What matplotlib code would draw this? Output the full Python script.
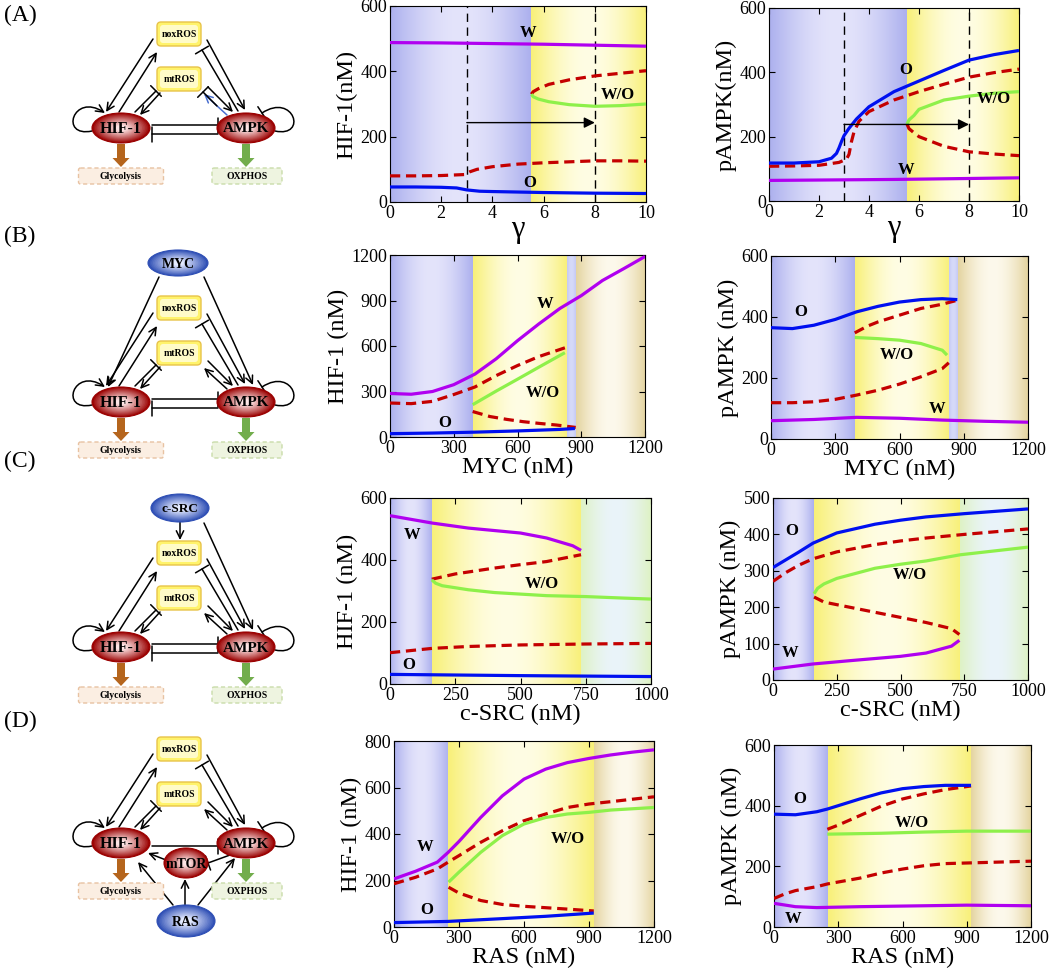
import matplotlib
matplotlib.use('Agg')
import matplotlib.pyplot as plt
import numpy as np
from matplotlib.colors import to_rgb
from matplotlib.path import Path
from matplotlib.patches import Ellipse, FancyBboxPatch, FancyArrow, FancyArrowPatch, ArrowStyle

plt.rcParams['font.family'] = ['Liberation Serif', 'DejaVu Serif']

# ---------------- values ----------------
# (A) HIF-1 vs gamma
A_hif_W = [(0, 488), (2, 487), (4, 485), (6, 483), (8, 480), (10, 477)]
A_hif_O = [(0, 46), (1, 46), (2, 45), (2.6, 43), (3, 37), (3.5, 33), (4, 32), (6, 29), (8, 27), (10, 26)]
A_hif_U1 = [(0, 80), (1, 80), (2, 81), (2.9, 84), (3.1, 92), (3.4, 100), (4, 108), (5, 116), (6, 120),
            (7, 123), (8, 126), (9, 126), (10, 125)]
A_hif_U2 = [(5.52, 330), (5.6, 338), (5.8, 347), (6.2, 360), (7, 374), (8, 386), (9, 394), (10, 402)]
A_hif_WO = [(5.52, 330), (5.6, 322), (5.8, 315), (6.2, 307), (7, 298), (8, 293), (9, 295), (10, 300)]
# (A) pAMPK vs gamma
A_amp_W = [(0, 64), (5, 67), (10, 72)]
A_amp_O = [(0, 118), (1, 118), (2, 122), (2.5, 133), (2.7, 148), (2.8, 165), (2.9, 185), (3.0, 203),
           (3.2, 226), (3.5, 255), (4, 293), (5, 340), (6, 373), (7, 406), (8, 438), (9, 455), (10, 468)]
A_amp_U1 = [(0, 108), (1, 109), (2, 111), (2.8, 120), (3.1, 130), (3.2, 145), (3.3, 185), (3.4, 215),
            (3.6, 248), (4, 278), (5, 314), (6, 340), (7, 363), (8, 385), (9, 399), (10, 410)]
A_amp_U2 = [(5.52, 239), (5.6, 225), (5.8, 212), (6, 200), (7, 170), (8, 153), (9, 146), (10, 141)]
A_amp_WO = [(5.52, 239), (5.6, 252), (5.8, 266), (6, 285), (7, 314), (8, 326), (9, 335), (10, 340)]

# (B) HIF-1 vs MYC
B_hif_W = [(0, 287), (100, 282), (200, 300), (300, 345), (400, 415), (500, 516), (600, 635), (700, 745),
           (800, 848), (900, 932), (1000, 1032), (1100, 1110), (1200, 1190)]
B_hif_O = [(0, 22), (200, 26), (400, 32), (600, 40), (800, 50), (870, 56)]
B_hif_U1 = [(0, 224), (100, 220), (200, 235), (300, 280), (400, 330), (500, 405), (600, 471), (700, 530), (823, 588)]
B_hif_WO = [(389, 213), (500, 303), (600, 381), (700, 460), (823, 556)]
B_hif_U2 = [(389, 168), (470, 135), (550, 116), (627, 101), (700, 90), (783, 79), (874, 63)]
# (B) pAMPK vs MYC
B_amp_O = [(0, 365), (100, 362), (200, 373), (300, 392), (400, 417), (500, 435), (600, 449), (700, 457),
           (800, 460), (870, 457)]
B_amp_U1 = [(391, 348), (450, 370), (500, 384), (600, 406), (700, 428), (800, 442), (870, 455)]
B_amp_WO = [(391, 333), (500, 329), (600, 324), (700, 313), (800, 291), (822, 275)]
B_amp_U2 = [(0, 119), (100, 119), (200, 122), (300, 130), (400, 144), (500, 160), (600, 180), (700, 204),
            (800, 231), (830, 250)]
B_amp_W = [(0, 60), (200, 64), (400, 71), (600, 68), (800, 62), (1000, 58), (1200, 55)]

# (C) HIF-1 vs c-SRC
C_hif_W = [(0, 543), (163, 519), (300, 503), (500, 487), (600, 471), (700, 446), (732, 431)]
C_hif_U1 = [(160, 338), (250, 355), (400, 374), (500, 385), (600, 395), (732, 417)]
C_hif_WO = [(160, 336), (175, 325), (200, 317), (300, 304), (400, 295), (500, 290), (600, 285), (750, 282),
            (900, 277), (1000, 274)]
C_hif_U2 = [(0, 101), (163, 115), (300, 121), (500, 126), (750, 129), (1000, 131)]
C_hif_O = [(0, 31), (500, 27), (1000, 24)]
# (C) pAMPK vs c-SRC
C_amp_O = [(0, 309), (50, 330), (100, 351), (157, 376), (250, 404), (400, 428), (500, 439), (600, 448),
           (750, 457), (1000, 470)]
C_amp_U1 = [(0, 271), (50, 295), (100, 315), (157, 333), (250, 352), (400, 372), (500, 382), (600, 390),
            (750, 400), (1000, 415)]
C_amp_WO = [(161, 237), (175, 252), (200, 264), (250, 279), (400, 307), (500, 318), (600, 327), (734, 344),
            (1000, 365)]
C_amp_U2 = [(161, 228), (200, 214), (300, 200), (400, 186), (500, 172), (600, 158), (700, 141), (731, 125)]
C_amp_W = [(0, 30), (157, 44), (300, 53), (500, 65), (600, 74), (700, 93), (731, 109)]

# (D) HIF-1 vs RAS
D_hif_W = [(0, 207), (100, 240), (200, 279), (250, 321), (300, 368), (400, 471), (500, 564), (600, 636),
           (700, 679), (800, 707), (900, 725), (1000, 740), (1100, 752), (1200, 762)]
D_hif_U1 = [(0, 186), (100, 214), (200, 250), (250, 279), (300, 307), (400, 364), (500, 414), (600, 457),
            (700, 486), (800, 514), (900, 529), (1000, 539), (1200, 560)]
D_hif_WO = [(252, 193), (300, 236), (400, 321), (500, 393), (600, 443), (700, 471), (800, 486), (900, 493),
            (1000, 503), (1200, 514)]
D_hif_U2 = [(252, 171), (300, 146), (400, 114), (500, 97), (600, 89), (700, 83), (800, 77), (922, 69)]
D_hif_O = [(0, 19), (250, 24), (500, 36), (700, 46), (922, 60)]
# (D) pAMPK vs RAS
D_amp_O = [(0, 372), (100, 370), (200, 380), (250, 389), (300, 400), (400, 422), (500, 442), (600, 456),
           (700, 463), (800, 467), (920, 467)]
D_amp_U1 = [(249, 322), (300, 336), (400, 367), (500, 398), (600, 422), (700, 439), (800, 453), (920, 465)]
D_amp_WO = [(249, 306), (500, 309), (700, 313), (900, 316), (1200, 316)]
D_amp_U2 = [(0, 94), (50, 109), (100, 120), (200, 133), (250, 142), (400, 161), (500, 178), (600, 191),
            (700, 202), (800, 209), (900, 211), (1000, 213), (1200, 217)]
D_amp_W = [(0, 78), (100, 67), (200, 64), (400, 67), (600, 69), (900, 72), (1200, 70)]

# stability regions (boundaries on the x axis) and their kind
A_regions, A_kinds = [0, 5.5, 10], ['blue', 'yellow']
B_regions, B_kinds = [0, 390, 833, 875, 1200], ['blue', 'yellow', 'strip', 'tan']
C_regions, C_kinds = [0, 160, 733, 1000], ['blue', 'yellow', 'green']
D_regions, D_kinds = [0, 250, 921, 1200], ['blue', 'yellow', 'tan']

# state labels
A_hif_labels = [('W', 5.4, 516), ('W/O', 8.9, 328), ('O', 5.45, 58)]
A_amp_labels = [('O', 5.48, 408), ('W/O', 8.98, 317), ('W', 5.5, 96)]
B_hif_labels = [('W', 728, 879), ('W/O', 721, 292), ('O', 258, 94)]
B_amp_labels = [('O', 137, 417), ('W/O', 588, 275), ('W', 775, 97)]
C_hif_labels = [('W', 83, 482), ('W/O', 581, 323), ('O', 70, 61)]
C_amp_labels = [('O', 72, 409), ('W/O', 537, 288), ('W', 66, 74)]
D_hif_labels = [('W', 142, 343), ('W/O', 803, 379), ('O', 149, 74)]
D_amp_labels = [('O', 121, 422), ('W/O', 643, 342), ('W', 90, 28)]

A_gamma_marks = [3, 8]
A_arrow_y = {'hif': 243, 'amp': 238}

# ---------------- styles ----------------
REGION_COLORS = {
    'blue': ((172, 176, 238), (228, 228, 251)),
    'yellow': ((248, 240, 120), (255, 253, 228)),
    'strip': ((196, 200, 244), (214, 218, 248)),
    'tan': ((228, 212, 160), (253, 249, 236)),
    'green': ((222, 242, 196), (234, 244, 250)),
}
LINE = {
    'W': dict(color='#b000f0', lw=2.3, ls='-'),
    'O': dict(color='#0010f0', lw=2.3, ls='-'),
    'WO': dict(color='#8ef04a', lw=2.3, ls='-'),
    'U': dict(color='#c40000', lw=2.3, ls=(0, (3.2, 1.8))),
}

FW, FH = 1050, 974
fig = plt.figure(figsize=(FW / 100, FH / 100), dpi=100)


def px_rect(l, t, r, b):
    return [l / FW, 1 - b / FH, (r - l) / FW, (b - t) / FH]


def mix(c1, c2, t):
    a, b = np.array(to_rgb(c1)), np.array(to_rgb(c2))
    return tuple(a * (1 - t) + b * t)


# ---------------- network diagrams ----------------
dax = fig.add_axes([0, 0, 1, 1])
dax.set_xlim(0, FW)
dax.set_ylim(FH, 0)
dax.axis('off')


def blob(cx, cy, w, h, dark, light, label, fs):
    n = 16
    for i in range(n):
        t = i / (n - 1)
        s = 1 - 0.82 * t
        dax.add_patch(Ellipse((cx, cy), w * s, h * s, fc=mix(dark, light, t ** 0.9), ec='none', zorder=3))
    dax.add_patch(Ellipse((cx, cy), w, h, fill=False, ec=dark, lw=0.8, zorder=3))
    dax.text(cx, cy + 1, label, ha='center', va='center', fontsize=fs, fontweight='bold', zorder=5)


def ros_box(cx, cy, label):
    w, h = 44, 24
    dax.add_patch(FancyBboxPatch((cx - w / 2, cy - h / 2), w, h, boxstyle='round,pad=0,rounding_size=4',
                                 fc='#fff36b', ec='#e8c34a', lw=1, zorder=3))
    dax.add_patch(FancyBboxPatch((cx - w / 2 + 3, cy - h / 2 + 3), w - 6, h - 6,
                                 boxstyle='round,pad=0,rounding_size=3', fc='#fffbc8', ec='none', zorder=3))
    dax.text(cx, cy + 0.5, label, ha='center', va='center', fontsize=7, fontweight='bold', zorder=5)


def out_box(cx, cy, w, label, fc, ec):
    h = 16
    dax.add_patch(FancyBboxPatch((cx - w / 2, cy - h / 2), w, h, boxstyle='round,pad=0,rounding_size=2',
                                 fc=fc, ec=ec, lw=1, ls=(0, (3, 2)), zorder=3))
    dax.text(cx, cy + 0.5, label, ha='center', va='center', fontsize=7, fontweight='bold', zorder=5)


def _style(kind):
    if kind == '->':
        return ArrowStyle('->', head_length=0.45, head_width=0.22)
    return ArrowStyle('-[', widthB=0.45, lengthB=0)


def link(p0, p1, kind, color='k'):
    dax.add_patch(FancyArrowPatch(p0, p1, arrowstyle=_style(kind), mutation_scale=12, lw=1.1, color=color,
                                  shrinkA=0, shrinkB=0, zorder=2))


def loop(pts, kind):
    path = Path(pts, [Path.MOVETO, Path.CURVE4, Path.CURVE4, Path.CURVE4])
    dax.add_patch(FancyArrowPatch(path=path, arrowstyle=_style(kind), mutation_scale=12, lw=1.1,
                                  color='k', zorder=2))


RED_DARK, RED_LIGHT = '#9a0000', '#fde6e6'
BLUE_DARK, BLUE_LIGHT = '#2f4fb5', '#e6ecff'

CORE_EDGES = [
    ((32, -89), (-15, -16), '->'),
    ((-2, -16), (36, -76), '->'),
    ((39, -35), (19, -13), '->'),
    ((14, -16), (35, -37), '-['),
    ((86, -88), (124, -18), '->'),
    ((117, -17), (81, -78), '-['),
    ((87, -41), (112, -16), '->'),
]
HIF_LOOP = [(-29, 3), (-62, 10), (-48, -36), (-16, -15)]
AMPK_LOOP = [(154, 3), (187, 10), (173, -36), (141, -15)]


def core(hx, hy, blue_mt=False, mtor=False):
    P = lambda dx, dy: (hx + dx, hy + dy)
    for a, b, k in CORE_EDGES:
        link(P(*a), P(*b), k)
    if blue_mt:
        link(P(106, -13), P(83, -34), '->', color='#4a6fd0')
        link(P(96, -22), P(82, -36), '-[')
    else:
        link(P(106, -13), P(83, -34), '->')
    if mtor:
        link(P(31, 3), P(97, 3), '-[')
    else:
        link(P(31, -3), P(97, -3), '-[')
        link(P(97, 6), P(31, 6), '-[')
    loop([P(*q) for q in HIF_LOOP], '->')
    loop([P(*q) for q in AMPK_LOOP], '-[')
    ros_box(*P(58, -94), 'noxROS')
    ros_box(*P(58, -49), 'mtROS')
    blob(*P(0, 0), 58, 30, RED_DARK, RED_LIGHT, 'HIF-1', 11.5)
    blob(*P(125, 0), 58, 30, RED_DARK, RED_LIGHT, 'AMPK', 11)
    out_box(*P(0, 48), 85, 'Glycolysis', '#fbeee2', '#e8c2a2')
    out_box(*P(126, 48), 70, 'OXPHOS', '#eef4e0', '#c9dcaa')
    dax.add_patch(FancyArrow(hx, hy + 16, 0, 23, width=8, head_width=17, head_length=9,
                             length_includes_head=True, color='#b5651d', lw=0, zorder=2))
    dax.add_patch(FancyArrow(hx + 125, hy + 16, 0, 23, width=8, head_width=17, head_length=9,
                             length_includes_head=True, color='#72ad4c', lw=0, zorder=2))
    return P


# (A)
core(121, 128, blue_mt=True)
# (B)
P = core(121, 402)
link(P(38, -125), P(-13, -15), '->')
link(P(83, -125), P(132, -17), '->')
blob(*P(57, -139), 60, 26, BLUE_DARK, BLUE_LIGHT, 'MYC', 10)
# (C)
P = core(121, 647)
link(P(59, -126), P(59, -107), '->')
link(P(83, -124), P(132, -17), '->')
blob(*P(59, -139), 58, 28, BLUE_DARK, BLUE_LIGHT, 'c-SRC', 9.5)
# (D)
P = core(121, 843, mtor=True)
link(P(45, 17), P(27, 10), '->')
link(P(109, 12), P(87, 20), '-[')
link(P(52, 62), P(17, 19), '->')
link(P(64, 62), P(64, 36), '->')
link(P(77, 62), P(114, 15), '->')
blob(*P(65, 20), 44, 30, RED_DARK, RED_LIGHT, 'mTOR', 10)
blob(*P(65, 78), 58, 32, BLUE_DARK, BLUE_LIGHT, 'RAS', 10)

for lab, y in [('(A)', 15), ('(B)', 236), ('(C)', 461), ('(D)', 721)]:
    fig.text(20 / FW, 1 - y / FH, lab, ha='center', va='center', fontsize=17)


# ---------------- bifurcation panels ----------------
def shade(ax, x0, x1, kind, ylim):
    edge, mid = np.array(REGION_COLORS[kind][0]) / 255, np.array(REGION_COLORS[kind][1]) / 255
    t = np.linspace(0, 1, 256)
    f = np.sin(np.pi * t)
    rgb = edge[None, :] * (1 - f[:, None]) + mid[None, :] * f[:, None]
    ax.imshow(rgb[None, :, :], extent=[x0, x1, ylim[0], ylim[1]], aspect='auto', origin='lower',
              interpolation='bilinear', zorder=0)


def panel(rect, xlim, ylim, xticks, yticks, xlabel, ylabel, regions, kinds, curves, labels, xfs=17.5, xpad=0):
    ax = fig.add_axes(px_rect(*rect))
    for x0, x1, k in zip(regions[:-1], regions[1:], kinds):
        shade(ax, x0, x1, k, ylim)
    for data, key in curves:
        x, y = np.array(data, dtype=float).T
        ax.plot(x, y, solid_capstyle='butt', dash_capstyle='butt', zorder=3, **LINE[key])
    for txt, x, y in labels:
        ax.text(x, y, txt, ha='center', va='center', fontsize=12, fontweight='bold', zorder=4)
    ax.set_xlim(*xlim)
    ax.set_ylim(*ylim)
    ax.set_xticks(xticks)
    ax.set_yticks(yticks)
    ax.tick_params(direction='in', top=True, right=True, length=4, labelsize=13, pad=2)
    ax.set_xlabel(xlabel, fontsize=xfs, labelpad=xpad)
    ax.set_ylabel(ylabel, fontsize=17.5, labelpad=2)
    for s in ax.spines.values():
        s.set_linewidth(0.8)
    return ax


ax1 = panel((390, 6, 646, 202), (0, 10), (0, 600), range(0, 11, 2), range(0, 601, 200), 'γ', 'HIF-1(nM)',
            A_regions, A_kinds,
            [(A_hif_U1, 'U'), (A_hif_U2, 'U'), (A_hif_WO, 'WO'), (A_hif_W, 'W'), (A_hif_O, 'O')],
            A_hif_labels, xfs=22, xpad=-5)
ax2 = panel((769, 8, 1019, 201), (0, 10), (0, 600), range(0, 11, 2), range(0, 601, 200), 'γ', 'pAMPK(nM)',
            A_regions, A_kinds,
            [(A_amp_U1, 'U'), (A_amp_U2, 'U'), (A_amp_WO, 'WO'), (A_amp_W, 'W'), (A_amp_O, 'O')],
            A_amp_labels, xfs=22, xpad=-5)
for ax, key in [(ax1, 'hif'), (ax2, 'amp')]:
    for g in A_gamma_marks:
        ax.axvline(g, color='k', lw=1, ls=(0, (6, 4)), zorder=2)
    ax.annotate('', xy=(A_gamma_marks[1], A_arrow_y[key]), xytext=(A_gamma_marks[0], A_arrow_y[key]),
                arrowprops=dict(arrowstyle='-|>', lw=1, color='k', mutation_scale=16, shrinkA=0, shrinkB=0),
                zorder=5)

panel((390, 255, 645, 437), (0, 1200), (0, 1200), range(0, 1201, 300), range(0, 1201, 300), 'MYC (nM)',
      'HIF-1 (nM)', B_regions, B_kinds,
      [(B_hif_U1, 'U'), (B_hif_U2, 'U'), (B_hif_WO, 'WO'), (B_hif_W, 'W'), (B_hif_O, 'O')], B_hif_labels)
panel((771, 256, 1028, 439), (0, 1200), (0, 600), range(0, 1201, 300), range(0, 601, 200), 'MYC (nM)',
      'pAMPK (nM)', B_regions, B_kinds,
      [(B_amp_U1, 'U'), (B_amp_U2, 'U'), (B_amp_WO, 'WO'), (B_amp_W, 'W'), (B_amp_O, 'O')], B_amp_labels)
panel((390, 498, 651, 684), (0, 1000), (0, 600), range(0, 1001, 250), range(0, 601, 200), 'c-SRC (nM)',
      'HIF-1 (nM)', C_regions, C_kinds,
      [(C_hif_U1, 'U'), (C_hif_U2, 'U'), (C_hif_WO, 'WO'), (C_hif_W, 'W'), (C_hif_O, 'O')], C_hif_labels)
panel((773, 498, 1028, 680), (0, 1000), (0, 500), range(0, 1001, 250), range(0, 501, 100), 'c-SRC (nM)',
      'pAMPK (nM)', C_regions, C_kinds,
      [(C_amp_U1, 'U'), (C_amp_U2, 'U'), (C_amp_WO, 'WO'), (C_amp_W, 'W'), (C_amp_O, 'O')], C_amp_labels)
panel((394, 741, 654, 927), (0, 1200), (0, 800), range(0, 1201, 300), range(0, 801, 200), 'RAS (nM)',
      'HIF-1 (nM)', D_regions, D_kinds,
      [(D_hif_U1, 'U'), (D_hif_U2, 'U'), (D_hif_WO, 'WO'), (D_hif_W, 'W'), (D_hif_O, 'O')], D_hif_labels)
panel((774, 745, 1031, 927), (0, 1200), (0, 600), range(0, 1201, 300), range(0, 601, 200), 'RAS (nM)',
      'pAMPK (nM)', D_regions, D_kinds,
      [(D_amp_U1, 'U'), (D_amp_U2, 'U'), (D_amp_WO, 'WO'), (D_amp_W, 'W'), (D_amp_O, 'O')], D_amp_labels)

fig.savefig('out.png', dpi=100, facecolor='white')
